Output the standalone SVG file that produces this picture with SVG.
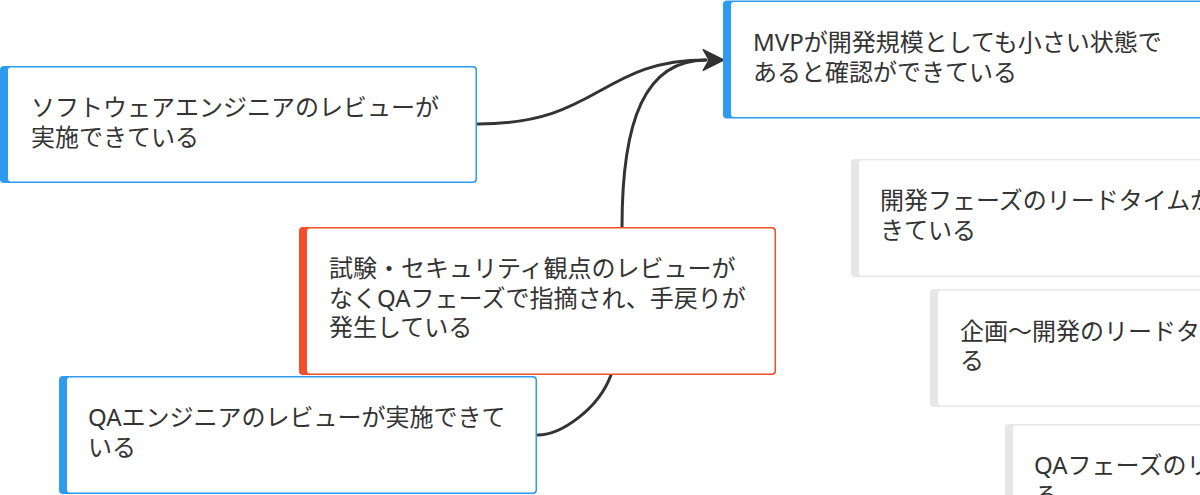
<svg xmlns="http://www.w3.org/2000/svg" width="1200" height="495" viewBox="0 0 1200 495">
<style>
  .t { font-family: "Noto Sans", "Noto Sans CJK JP", sans-serif; font-size: 24px; fill: #333333; }
  .blue { fill: #2e9bf0; }
  .red { fill: #f24e2a; }
  .gray { fill: #e6e6e6; }
  .in { fill: #ffffff; }
  .conn { fill: none; stroke: #333333; stroke-width: 3; stroke-linecap: round; }
</style>
<defs>
  <marker id="arrow" markerUnits="userSpaceOnUse" viewBox="-1 -12 24 24" markerWidth="24" markerHeight="24" refX="3" refY="0" orient="auto">
    <path d="M0,-10.5 L21,0 L0,10.5 L6,0 Z" fill="#333333" stroke="#333333" stroke-width="1" stroke-linejoin="round"/>
  </marker>
</defs>
<rect x="0" y="0" width="1200" height="495" fill="#ffffff"/>

<g id="connectors">
  <path class="conn" d="M478,124 C600,124 600,60 706,60" marker-end="url(#arrow)"/>
  <path class="conn" d="M538,435 C560,435 598,410 611,375 C616,361 622,260 622,227 C622,120 645,60 706,60" marker-end="url(#arrow)"/>
</g>

<g id="node-software-review">
  <rect class="blue" x="0" y="66" width="477" height="117" rx="4"/>
  <rect class="in" x="8" y="67.5" width="467.5" height="114" rx="3"/>
  <text class="t" x="31" y="116">ソフトウェアエンジニアのレビューが</text>
  <text class="t" x="31" y="145.5">実施できている</text>
</g>

<g id="node-mvp">
  <rect class="blue" x="723" y="0.5" width="500" height="118" rx="4"/>
  <rect class="in" x="731" y="2" width="490" height="115" rx="3"/>
  <text class="t" x="753" y="51">MVPが開発規模としても小さい状態で</text>
  <text class="t" x="753" y="80.5">あると確認ができている</text>
</g>

<g id="node-issue">
  <rect class="red" x="299" y="227" width="477" height="148" rx="4"/>
  <rect class="in" x="307" y="228.5" width="467.5" height="145" rx="3"/>
  <text class="t" x="329" y="277">試験・セキュリティ観点のレビューが</text>
  <text class="t" x="329" y="306.5">なくQAフェーズで指摘され、手戻りが</text>
  <text class="t" x="329" y="336">発生している</text>
</g>

<g id="node-qa-review">
  <rect class="blue" x="59" y="376" width="478" height="118" rx="4"/>
  <rect class="in" x="67" y="377.5" width="468.5" height="115" rx="3"/>
  <text class="t" x="88" y="426">QAエンジニアのレビューが実施できて</text>
  <text class="t" x="88" y="455.5">いる</text>
</g>

<g id="node-dev-leadtime">
  <rect class="gray" x="851" y="159" width="477" height="118" rx="4"/>
  <rect class="in" x="859" y="160.5" width="467.5" height="115" rx="3"/>
  <text class="t" x="880" y="209">開発フェーズのリードタイムが</text>
  <text class="t" x="880" y="238.5">きている</text>
</g>

<g id="node-plan-leadtime">
  <rect class="gray" x="930" y="289" width="477" height="118" rx="4"/>
  <rect class="in" x="938" y="290.5" width="467.5" height="115" rx="3"/>
  <text class="t" x="960" y="339.5">企画〜開発のリードタ</text>
  <text class="t" x="960" y="369">る</text>
</g>

<g id="node-qa-leadtime">
  <rect class="gray" x="1005" y="424" width="477" height="118" rx="4"/>
  <rect class="in" x="1013" y="425.5" width="467.5" height="115" rx="3"/>
  <text class="t" x="1034" y="474">QAフェーズのリ</text>
  <text class="t" x="1034" y="503.5">る</text>
</g>
</svg>
